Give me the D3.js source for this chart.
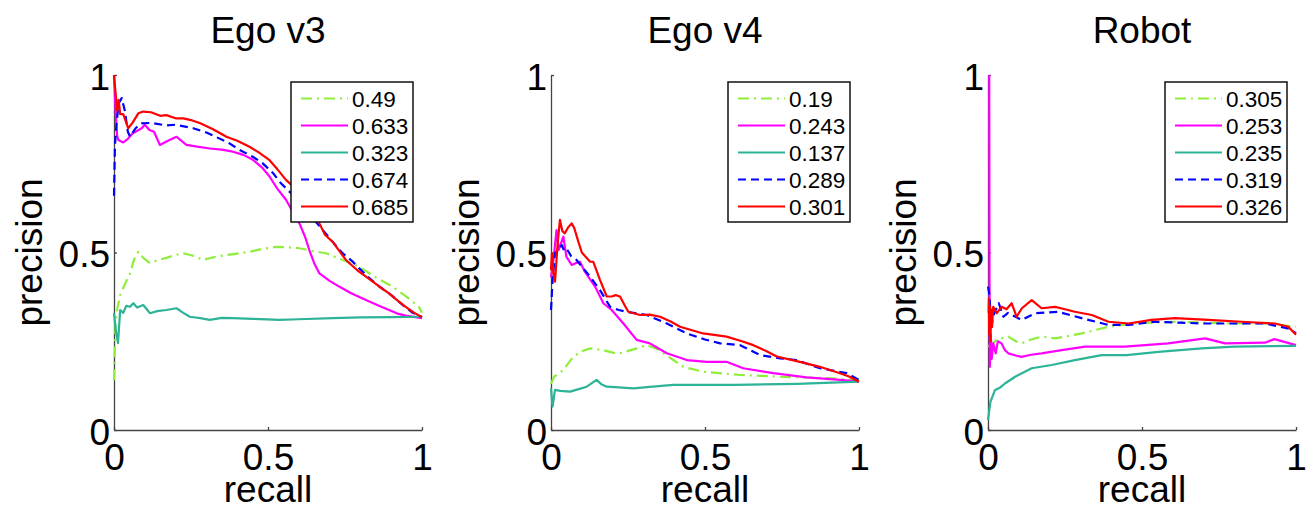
<!DOCTYPE html>
<html>
<head>
<meta charset="utf-8">
<script src="https://cdn.jsdelivr.net/npm/d3@7"></script>
<style>
  body { margin: 0; background: #fff; }
  svg { display: block; font-family: Arial, "Liberation Sans", sans-serif; }
</style>
</head>
<body>
<svg id="chart" width="1306" height="510"></svg>
<script>
// panel titles and legend values (AP per method)
const titles = ["Ego v3", "Ego v4", "Robot"];
const legendV3 = ["0.49", "0.633", "0.323", "0.674", "0.685"];
const legendV4 = ["0.19", "0.243", "0.137", "0.289", "0.301"];
const legendRobot = ["0.305", "0.253", "0.235", "0.319", "0.326"];
const tickValues = [0, 0.5, 1];

// [recall, precision]
// Ego v3
const greenV3 = [[0,0.14],[0.005,0.3],[0.01,0.338],[0.02,0.38],[0.035,0.41],[0.052,0.441],[0.065,0.48],[0.079,0.502],[0.095,0.485],[0.117,0.47],[0.14,0.478],[0.17,0.485],[0.2,0.493],[0.224,0.498],[0.26,0.49],[0.289,0.479],[0.33,0.488],[0.365,0.493],[0.4,0.497],[0.44,0.502],[0.48,0.51],[0.527,0.516],[0.56,0.515],[0.602,0.512],[0.64,0.505],[0.688,0.498],[0.74,0.48],[0.796,0.46],[0.85,0.43],[0.904,0.404],[0.95,0.375],[0.99,0.347],[1.0,0.33]];
const magentaV3 = [[0,1.0],[0.005,0.9],[0.01,0.83],[0.014,0.817],[0.03,0.81],[0.045,0.82],[0.06,0.835],[0.09,0.85],[0.1,0.86],[0.115,0.845],[0.13,0.84],[0.149,0.803],[0.175,0.815],[0.203,0.826],[0.235,0.803],[0.27,0.798],[0.311,0.793],[0.35,0.79],[0.386,0.784],[0.42,0.775],[0.451,0.761],[0.48,0.74],[0.505,0.714],[0.53,0.68],[0.559,0.648],[0.58,0.615],[0.602,0.582],[0.62,0.545],[0.634,0.507],[0.65,0.47],[0.667,0.441],[0.7,0.42],[0.731,0.404],[0.77,0.385],[0.818,0.366],[0.86,0.35],[0.893,0.338],[0.92,0.328],[0.947,0.322],[1.0,0.315]];
const tealV3 = [[0,0.33],[0.006,0.28],[0.013,0.245],[0.02,0.338],[0.03,0.33],[0.04,0.35],[0.052,0.347],[0.063,0.357],[0.075,0.345],[0.095,0.352],[0.117,0.329],[0.14,0.335],[0.17,0.338],[0.203,0.343],[0.225,0.33],[0.246,0.319],[0.28,0.315],[0.311,0.31],[0.35,0.316],[0.386,0.315],[0.45,0.313],[0.537,0.31],[0.6,0.312],[0.71,0.315],[0.8,0.317],[0.9,0.318],[1.0,0.319]];
const blueV3 = [[0,0.66],[0.003,0.8],[0.008,0.86],[0.015,0.92],[0.025,0.935],[0.035,0.9],[0.045,0.84],[0.052,0.826],[0.07,0.85],[0.09,0.864],[0.12,0.865],[0.17,0.858],[0.2,0.86],[0.257,0.85],[0.3,0.838],[0.33,0.826],[0.37,0.81],[0.408,0.789],[0.45,0.77],[0.483,0.751],[0.515,0.725],[0.542,0.695],[0.575,0.667],[0.61,0.64],[0.64,0.6],[0.667,0.575],[0.7,0.54],[0.74,0.5],[0.774,0.475],[0.82,0.435],[0.86,0.405],[0.9,0.38],[0.94,0.35],[0.97,0.33],[1.0,0.318]];
const redV3 = [[0,1.0],[0.005,0.95],[0.01,0.9],[0.015,0.93],[0.02,0.89],[0.03,0.89],[0.046,0.85],[0.06,0.865],[0.079,0.892],[0.095,0.897],[0.12,0.895],[0.15,0.885],[0.17,0.887],[0.2,0.878],[0.225,0.878],[0.25,0.873],[0.28,0.864],[0.32,0.848],[0.365,0.826],[0.4,0.815],[0.44,0.798],[0.47,0.782],[0.505,0.76],[0.53,0.735],[0.559,0.704],[0.59,0.68],[0.62,0.66],[0.645,0.63],[0.667,0.582],[0.685,0.55],[0.71,0.53],[0.753,0.479],[0.79,0.45],[0.818,0.432],[0.86,0.405],[0.893,0.385],[0.92,0.365],[0.947,0.347],[0.975,0.33],[1.0,0.318]];

// Ego v4
const greenV4 = [[0,0.13],[0.01,0.15],[0.04,0.169],[0.072,0.206],[0.1,0.222],[0.127,0.23],[0.17,0.225],[0.2,0.218],[0.224,0.216],[0.278,0.23],[0.311,0.239],[0.34,0.23],[0.365,0.216],[0.43,0.178],[0.494,0.164],[0.614,0.155],[0.744,0.15],[0.9,0.146],[1.0,0.141]];
const magentaV4 = [[0,0.43],[0.008,0.48],[0.018,0.563],[0.025,0.507],[0.04,0.545],[0.05,0.488],[0.067,0.465],[0.08,0.47],[0.094,0.474],[0.11,0.446],[0.143,0.404],[0.17,0.357],[0.197,0.338],[0.235,0.3],[0.278,0.254],[0.321,0.244],[0.376,0.216],[0.441,0.197],[0.506,0.192],[0.57,0.192],[0.624,0.174],[0.722,0.16],[0.83,0.148],[0.938,0.141],[1.0,0.136]];
const tealV4 = [[0,0.117],[0.005,0.066],[0.013,0.113],[0.03,0.11],[0.062,0.108],[0.09,0.115],[0.116,0.122],[0.148,0.141],[0.165,0.128],[0.181,0.122],[0.22,0.12],[0.267,0.117],[0.33,0.122],[0.397,0.127],[0.6,0.127],[0.8,0.13],[1.0,0.136]];
const blueV4 = [[0,0.338],[0.005,0.42],[0.013,0.498],[0.025,0.51],[0.035,0.521],[0.045,0.5],[0.055,0.505],[0.065,0.49],[0.083,0.479],[0.1,0.46],[0.127,0.432],[0.159,0.394],[0.192,0.347],[0.22,0.338],[0.246,0.333],[0.311,0.324],[0.376,0.3],[0.441,0.272],[0.5,0.255],[0.549,0.244],[0.614,0.239],[0.679,0.211],[0.744,0.202],[0.797,0.197],[0.873,0.174],[0.96,0.16],[1.0,0.141]];
const redV4 = [[0,0.45],[0.003,0.498],[0.008,0.44],[0.013,0.418],[0.022,0.53],[0.029,0.592],[0.037,0.56],[0.045,0.554],[0.055,0.57],[0.067,0.582],[0.075,0.57],[0.089,0.53],[0.1,0.5],[0.127,0.474],[0.137,0.474],[0.159,0.423],[0.181,0.376],[0.197,0.376],[0.21,0.38],[0.224,0.376],[0.24,0.35],[0.251,0.333],[0.289,0.324],[0.32,0.325],[0.354,0.319],[0.39,0.305],[0.419,0.291],[0.494,0.272],[0.57,0.263],[0.62,0.25],[0.657,0.239],[0.7,0.222],[0.733,0.207],[0.808,0.192],[0.873,0.178],[0.938,0.16],[0.97,0.15],[1.0,0.136]];

// Robot
const greenRobot = [[0,0.235],[0.01,0.24],[0.03,0.255],[0.066,0.263],[0.09,0.25],[0.109,0.244],[0.14,0.255],[0.174,0.263],[0.22,0.258],[0.304,0.272],[0.391,0.291],[0.477,0.3],[0.607,0.305],[0.8,0.3],[0.9,0.3],[1.0,0.291]];
const magentaRobot = [[0.004,1.0],[0.005,0.4],[0.006,0.178],[0.009,0.27],[0.012,0.2],[0.017,0.244],[0.025,0.216],[0.032,0.25],[0.044,0.244],[0.055,0.225],[0.066,0.216],[0.09,0.21],[0.109,0.206],[0.14,0.212],[0.174,0.216],[0.239,0.225],[0.315,0.235],[0.445,0.235],[0.585,0.244],[0.705,0.258],[0.77,0.244],[0.899,0.246],[0.93,0.256],[1.0,0.239]];
const tealRobot = [[0,0.028],[0.008,0.08],[0.023,0.113],[0.04,0.12],[0.055,0.131],[0.088,0.15],[0.142,0.174],[0.207,0.183],[0.282,0.197],[0.369,0.211],[0.45,0.211],[0.553,0.22],[0.694,0.23],[0.8,0.235],[1.0,0.237]];
const blueRobot = [[0,0.404],[0.005,0.38],[0.01,0.291],[0.02,0.329],[0.035,0.357],[0.05,0.319],[0.065,0.33],[0.109,0.31],[0.153,0.329],[0.228,0.333],[0.304,0.315],[0.391,0.296],[0.456,0.296],[0.54,0.305],[0.7,0.3],[0.9,0.3],[0.98,0.285],[1.0,0.272]];
const redRobot = [[0.002,0.33],[0.003,0.37],[0.004,0.27],[0.006,0.35],[0.008,0.25],[0.01,0.34],[0.013,0.29],[0.017,0.347],[0.028,0.329],[0.044,0.347],[0.06,0.34],[0.077,0.357],[0.093,0.319],[0.11,0.343],[0.142,0.366],[0.174,0.343],[0.218,0.347],[0.25,0.34],[0.282,0.333],[0.337,0.324],[0.391,0.305],[0.456,0.3],[0.531,0.31],[0.607,0.315],[0.715,0.31],[0.824,0.305],[0.932,0.3],[0.975,0.291],[1.0,0.268]];

// line styles, same order as the legend
const styles = [
  { color: "#8fee3c", dash: "11,5,2,5" },
  { color: "#ff00ff", dash: null },
  { color: "#2db396", dash: null },
  { color: "#0000ff", dash: "8,5" },
  { color: "#ff0000", dash: null }
];

const panels = [
  { title: titles[0], legend: legendV3, series: [greenV3, magentaV3, tealV3, blueV3, redV3] },
  { title: titles[1], legend: legendV4, series: [greenV4, magentaV4, tealV4, blueV4, redV4] },
  { title: titles[2], legend: legendRobot, series: [greenRobot, magentaRobot, tealRobot, blueRobot, redRobot] }
];

const svg = d3.select("#chart");
const plot_w = 308;
const top_y = 75;
const bottom_y = 430;
const lefts = [114, 551, 988];
const axis_font = 37;
const axis_color = "#444";

panels.forEach((p, i) => {
  const left = lefts[i];
  const x = d3.scaleLinear().domain([0, 1]).range([left, left + plot_w]);
  const y = d3.scaleLinear().domain([0, 1]).range([bottom_y, top_y]);
  const g = svg.append("g");

  // axes first, curves drawn on top
  g.append("g")
    .attr("transform", `translate(0,${bottom_y})`)
    .call(d3.axisBottom(x).tickValues(tickValues).tickFormat(d3.format(""))
      .tickSizeInner(-3).tickSizeOuter(0).tickPadding(14))
    .call(a => a.selectAll("path,line").attr("stroke", axis_color).attr("stroke-width", 1.3))
    .call(a => a.selectAll("text").attr("fill", "#000").attr("font-size", axis_font)
      .attr("font-family", "Arial, 'Liberation Sans', sans-serif"));

  g.append("g")
    .attr("transform", `translate(${left},0)`)
    .call(d3.axisLeft(y).tickValues(tickValues).tickFormat(d3.format(""))
      .tickSizeInner(-3).tickSizeOuter(0).tickPadding(4))
    .call(a => a.selectAll("path,line").attr("stroke", axis_color).attr("stroke-width", 1.3))
    .call(a => a.selectAll("text").attr("fill", "#000").attr("font-size", axis_font)
      .attr("dy", "0.38em").attr("font-family", "Arial, 'Liberation Sans', sans-serif"));

  // curves
  const line = d3.line().x(d => x(d[0])).y(d => y(d[1]));
  p.series.forEach((s, k) => {
    g.append("path")
      .datum(s)
      .attr("d", line)
      .attr("fill", "none")
      .attr("stroke", styles[k].color)
      .attr("stroke-width", 2.2)
      .attr("stroke-linejoin", "round")
      .attr("stroke-dasharray", styles[k].dash);
  });

  // titles and axis labels
  g.append("text")
    .attr("x", left + plot_w / 2)
    .attr("y", 43)
    .attr("text-anchor", "middle")
    .attr("font-size", axis_font)
    .text(p.title);

  g.append("text")
    .attr("x", left + plot_w / 2)
    .attr("y", 502)
    .attr("text-anchor", "middle")
    .attr("font-size", axis_font)
    .text("recall");

  g.append("text")
    .attr("transform", `translate(${left - 72},${(top_y + bottom_y) / 2}) rotate(-90)`)
    .attr("text-anchor", "middle")
    .attr("font-size", axis_font)
    .text("precision");

  // legend
  const lx = left + plot_w - 131;
  const ly = 82;
  const leg = g.append("g").attr("transform", `translate(${lx},${ly})`);
  leg.append("rect")
    .attr("width", 122).attr("height", 140)
    .attr("fill", "#fff").attr("stroke", "#111").attr("stroke-width", 1.5);
  p.legend.forEach((label, k) => {
    const ry = 16.5 + k * 27;
    leg.append("line")
      .attr("x1", 10).attr("x2", 57).attr("y1", ry).attr("y2", ry)
      .attr("stroke", styles[k].color).attr("stroke-width", 2.2)
      .attr("stroke-dasharray", styles[k].dash);
    leg.append("text")
      .attr("x", 61).attr("y", ry + 8.5)
      .attr("font-size", 22.5)
      .text(label);
  });
});
</script>
</body>
</html>
